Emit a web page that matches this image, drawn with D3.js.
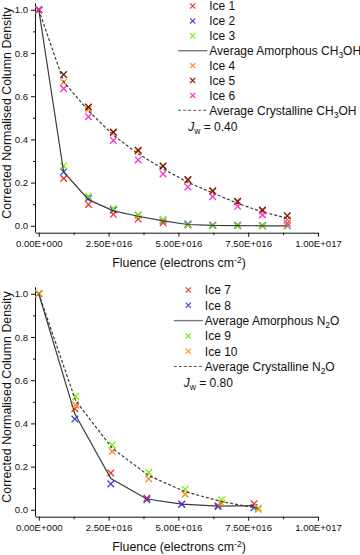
<!DOCTYPE html>
<html>
<head>
<meta charset="utf-8">
<script src="https://cdn.jsdelivr.net/npm/d3@7"></script>
<style>
  body { margin: 0; background: #fff; }
  svg { display: block; font-family: "Liberation Sans", Arial, sans-serif; }
</style>
</head>
<body>
<svg id="chart" width="360" height="555"></svg>
<script>
// ---- data: CH3OH panel (top) ----
const fluenceCH3OH = [0, 0.89e16, 1.78e16, 2.67e16, 3.56e16, 4.45e16, 5.34e16, 6.23e16, 7.12e16, 8.01e16, 8.9e16];
const ice1 = [1, 0.219, 0.099, 0.053, 0.031, 0.014, 0.004, 0.001, 0, 0, 0];
const ice2 = [1, 0.25, 0.127, 0.073, 0.049, 0.026, 0.008, 0.003, 0.002, 0.001, 0.001];
const ice3 = [1, 0.277, 0.137, 0.08, 0.05, 0.028, 0.004, 0, 0, 0, 0];
const avgAmorphousCH3OH = [1, 0.249, 0.121, 0.069, 0.044, 0.023, 0.006, 0.002, 0.001, 0, 0];
const ice4 = [1, 0.665, 0.54, 0.43, 0.345, 0.275, 0.21, 0.158, 0.11, 0.068, 0.028];
const ice5 = [1, 0.70, 0.55, 0.434, 0.35, 0.277, 0.214, 0.162, 0.113, 0.073, 0.046];
const ice6 = [1, 0.635, 0.505, 0.395, 0.305, 0.24, 0.18, 0.135, 0.09, 0.05, 0.012];
const avgCrystallineCH3OH = [1, 0.667, 0.532, 0.42, 0.333, 0.264, 0.201, 0.152, 0.104, 0.064, 0.035];

// ---- data: N2O panel (bottom) ----
const fluenceAmorphousN2O = [0, 1.29e16, 2.58e16, 3.87e16, 5.12e16, 6.42e16, 7.71e16];
const fluenceCrystallineN2O = [0, 1.32e16, 2.63e16, 3.94e16, 5.24e16, 6.55e16, 7.86e16];
const ice7 = [1, 0.468, 0.17, 0.054, 0.026, 0.019, 0.028];
const ice8 = [1, 0.42, 0.12, 0.046, 0.026, 0.015, 0.01];
const avgAmorphousN2O = [1, 0.444, 0.145, 0.05, 0.026, 0.017, 0.019];
const ice9 = [1, 0.525, 0.30, 0.172, 0.095, 0.046, 0.008];
const ice10 = [1, 0.485, 0.27, 0.143, 0.072, 0.03, 0.003];
const avgCrystallineN2O = [1, 0.505, 0.285, 0.158, 0.084, 0.038, 0.006];

// ---- ticks ----
const xMajorTicks = [0, 2.5e16, 5e16, 7.5e16, 1e17];
const xTickLabels = ["0.00E+000", "2.50E+016", "5.00E+016", "7.50E+016", "1.00E+017"];
const xMinorTicks = [1.25e16, 3.75e16, 6.25e16, 8.75e16];
const yMajorTicks = [0, 0.2, 0.4, 0.6, 0.8, 1.0];
const yTickLabels = ["0.0", "0.2", "0.4", "0.6", "0.8", "1.0"];
const yMinorTicks = [0.1, 0.3, 0.5, 0.7, 0.9];

const col = {
    red: "#ff2a2a", blue: "#3b3bff", green: "#7cf000",
    orange: "#ff8a1f", wine: "#7a0a0a", magenta: "#ff2cd2",
    line: "#3a3a3a"
};

const svg = d3.select('#chart');

const panels = [
    {
        top: 3.3, bottom: 232.7,
        legend: { x: 192.7, y0: 6 },
        molecule: ["CH", "3", "OH"], jw: "0.40",
        amorphous: [
            { name: "Ice 1", x: fluenceCH3OH, y: ice1, color: col.red },
            { name: "Ice 2", x: fluenceCH3OH, y: ice2, color: col.blue },
            { name: "Ice 3", x: fluenceCH3OH, y: ice3, color: col.green },
        ],
        amorphousAvg: { x: fluenceCH3OH, y: avgAmorphousCH3OH },
        crystalline: [
            { name: "Ice 4", x: fluenceCH3OH, y: ice4, color: col.orange },
            { name: "Ice 5", x: fluenceCH3OH, y: ice5, color: col.wine },
            { name: "Ice 6", x: fluenceCH3OH, y: ice6, color: col.magenta },
        ],
        crystallineAvg: { x: fluenceCH3OH, y: avgCrystallineCH3OH },
        rowStep: 14.9
    },
    {
        top: 287.3, bottom: 516.7,
        legend: { x: 188.3, y0: 290 },
        molecule: ["N", "2", "O"], jw: "0.80",
        amorphous: [
            { name: "Ice 7", x: fluenceAmorphousN2O, y: ice7, color: col.red },
            { name: "Ice 8", x: fluenceAmorphousN2O, y: ice8, color: col.blue },
        ],
        amorphousAvg: { x: fluenceAmorphousN2O, y: avgAmorphousN2O },
        crystalline: [
            { name: "Ice 9", x: fluenceCrystallineN2O, y: ice9, color: col.green },
            { name: "Ice 10", x: fluenceCrystallineN2O, y: ice10, color: col.orange },
        ],
        crystallineAvg: { x: fluenceCrystallineN2O, y: avgCrystallineN2O },
        rowStep: 15.3
    }
];

panels.forEach(drawPanel);

function cross(sel, cx, cy, r, color, w) {
    sel.append('path')
        .attr('d', `M${cx - r},${cy - r}L${cx + r},${cy + r}M${cx - r},${cy + r}L${cx + r},${cy - r}`)
        .attr('stroke', color)
        .attr('stroke-width', w)
        .attr('fill', 'none');
}

function drawPanel(p) {
    const g = svg.append('g');

    const x = d3.scaleLinear().domain([-1e15, 1e17]).range([36, 318]);
    const y = d3.scaleLinear().domain([-0.032, 1.03]).range([p.bottom, p.top]);

    // x axis
    const xAxis = d3.axisBottom(x)
        .tickValues(xMajorTicks)
        .tickSize(4)
        .tickPadding(3)
        .tickFormat((d, i) => xTickLabels[i]);
    const gx = g.append('g').attr('transform', `translate(0,${p.bottom})`).call(xAxis);
    gx.select('.domain').attr('d', `M36,0.5H318`);
    gx.selectAll('text').attr('font-size', 9.6).attr('fill', '#111');
    g.append('g').attr('transform', `translate(0,${p.bottom})`)
        .call(d3.axisBottom(x).tickValues(xMinorTicks).tickSize(2.5).tickFormat(''))
        .select('.domain').remove();

    // y axis
    const yAxis = d3.axisLeft(y)
        .tickValues(yMajorTicks)
        .tickSize(5)
        .tickPadding(3)
        .tickFormat((d, i) => yTickLabels[i]);
    const gy = g.append('g').attr('transform', `translate(36,0)`).call(yAxis);
    gy.select('.domain').attr('d', `M-0.5,${p.top}V${p.bottom}`);
    gy.selectAll('text').attr('font-size', 9.6).attr('fill', '#111');
    g.append('g').attr('transform', `translate(36,0)`)
        .call(d3.axisLeft(y).tickValues(yMinorTicks).tickSize(3).tickFormat(''))
        .select('.domain').remove();

    g.selectAll('.tick line').attr('stroke', '#111');
    g.selectAll('.domain').attr('stroke', '#111');

    // axis titles
    const xt = g.append('text')
        .attr('x', 179).attr('y', p.bottom + 34.5)
        .attr('text-anchor', 'middle')
        .attr('font-size', 12.4).attr('fill', '#111');
    xt.append('tspan').text('Fluence (electrons cm');
    xt.append('tspan').attr('dy', -4.5).attr('font-size', 8.5).text('-2');
    xt.append('tspan').attr('dy', 4.5).text(')');

    g.append('text')
        .attr('transform', `translate(11.3,${(p.top + p.bottom) / 2 - 5}) rotate(-90)`)
        .attr('text-anchor', 'middle')
        .attr('font-size', 12.4).attr('fill', '#111')
        .text('Corrected Normalised Column Density');

    const line = d3.line();
    const plotSeries = s => {
        s.y.forEach((v, i) => cross(g, x(s.x[i]), y(v), 3.3, s.color, 1.3));
    };
    const plotAvg = (a, dashed) => {
        g.append('path')
            .attr('d', line(a.y.map((v, i) => [x(a.x[i]), y(v)])))
            .attr('fill', 'none')
            .attr('stroke', col.line)
            .attr('stroke-width', 1.2)
            .attr('stroke-dasharray', dashed ? '3,2' : null);
    };

    p.amorphous.forEach(plotSeries);
    plotAvg(p.amorphousAvg, false);
    p.crystalline.forEach(plotSeries);
    plotAvg(p.crystallineAvg, true);

    // legend
    const lg = g.append('g');
    const mx = p.legend.x;
    const tx = mx + 16.5;
    let row = 0;
    const rowY = () => p.legend.y0 + row * p.rowStep;
    const label = (yy, avgName) => {
        const t = lg.append('text').attr('x', tx).attr('y', yy + 4.3)
            .attr('font-size', 12).attr('fill', '#111');
        if (avgName) {
            t.append('tspan').text(avgName + ' ' + p.molecule[0]);
            t.append('tspan').attr('dy', 3).attr('font-size', 8.5).text(p.molecule[1]);
            t.append('tspan').attr('dy', -3).text(p.molecule[2]);
        }
        return t;
    };
    const legendSeries = s => {
        const yy = rowY();
        cross(lg, mx, yy, 2.6, s.color, 1.1);
        label(yy).text(s.name);
        row++;
    };
    const legendAvg = (name, dashed) => {
        const yy = rowY();
        lg.append('line')
            .attr('x1', mx - 14.5).attr('x2', tx - 2)
            .attr('y1', yy).attr('y2', yy)
            .attr('stroke', dashed ? '#555' : '#777')
            .attr('stroke-width', dashed ? 1 : 1.4)
            .attr('stroke-dasharray', dashed ? '3,2' : null);
        label(yy, name);
        row++;
    };
    p.amorphous.forEach(legendSeries);
    legendAvg('Average Amorphous', false);
    p.crystalline.forEach(legendSeries);
    legendAvg('Average Crystalline', true);

    const jy = rowY() + 1;
    const jt = lg.append('text').attr('x', mx - 4.5).attr('y', jy + 4.3)
        .attr('font-size', 12).attr('fill', '#111');
    jt.append('tspan').attr('font-style', 'italic').text('J');
    jt.append('tspan').attr('dy', 3).attr('font-size', 8.5).text('w');
    jt.append('tspan').attr('dy', -3).text(' = ' + p.jw);
}
</script>
</body>
</html>
